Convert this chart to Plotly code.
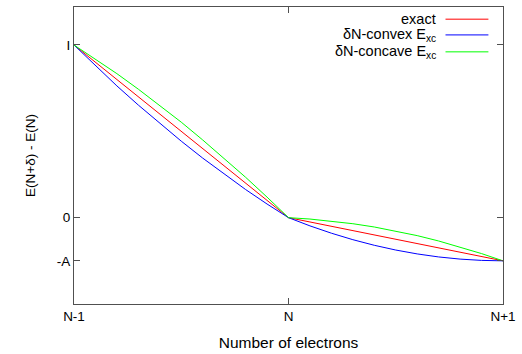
import plotly.graph_objects as go

# Number of electrons, measured relative to N
n_rel = [-1.0, -0.9, -0.8, -0.7, -0.6, -0.5, -0.4, -0.3, -0.2, -0.1, 0.0,
         0.1, 0.2, 0.3, 0.4, 0.5, 0.6, 0.7, 0.8, 0.9, 1.0]

# E(N+delta) - E(N) in units of the ionisation energy I (A = electron affinity)
e_exact = [1.0, 0.9, 0.8, 0.7, 0.6, 0.5, 0.4, 0.3, 0.2, 0.1, 0.0,
           -0.025, -0.05, -0.075, -0.1, -0.125, -0.15, -0.175, -0.2, -0.225, -0.25]
e_convex = [1.0, 0.879, 0.763, 0.652, 0.545, 0.443, 0.345, 0.252, 0.163, 0.079, 0.0,
            -0.0475, -0.09, -0.1275, -0.16, -0.1875, -0.21, -0.2275, -0.24, -0.2475, -0.25]
e_concave = [1.0, 0.919, 0.834, 0.744, 0.650, 0.553, 0.450, 0.344, 0.234, 0.119, 0.0,
             -0.008, -0.020, -0.035, -0.054, -0.078, -0.104, -0.135, -0.170, -0.208, -0.25]

x_tick_vals = [-1, 0, 1]
x_tick_text = ["N-1", "N", "N+1"]
y_tick_vals = [-0.25, 0, 1]
y_tick_text = ["-A", "0", "I"]

series_names = ["exact", "δN-convex E<sub>xc</sub>", "δN-concave E<sub>xc</sub>"]
series_values = [e_exact, e_convex, e_concave]
series_colors = ["#ff0000", "#0000ff", "#00ff00"]

FONT = "Liberation Sans, Arial, sans-serif"
AXIS_COLOR = "#505050"

fig = go.Figure()
for name, vals, col in zip(series_names, series_values, series_colors):
    fig.add_trace(go.Scatter(x=n_rel, y=vals, mode="lines", name=name,
                             line=dict(color=col, width=1), showlegend=False))

# gnuplot-style key: right-aligned labels with the line sample to their right
key_rows = [0.959, 0.906, 0.849]
for name, col, yy in zip(series_names, series_colors, key_rows):
    fig.add_annotation(x=0.848, y=yy, xref="paper", yref="paper", text=name,
                       showarrow=False, xanchor="right", yanchor="middle",
                       font=dict(size=14.5, color="#000000", family=FONT))
    fig.add_shape(type="line", xref="paper", yref="paper",
                  x0=0.866, x1=0.966, y0=yy, y1=yy,
                  line=dict(color=col, width=1))

axis_common = dict(showgrid=False, zeroline=False, showline=True, linecolor=AXIS_COLOR,
                   linewidth=1, mirror="ticks", ticks="inside", ticklen=6,
                   tickcolor=AXIS_COLOR, tickwidth=1,
                   tickfont=dict(size=13.5, color="#000000", family=FONT))

fig.update_xaxes(range=[-1, 1], tickvals=x_tick_vals, ticktext=x_tick_text,
                 title=dict(text="Number of electrons", standoff=13,
                            font=dict(size=15.5, color="#000000", family=FONT)),
                 **axis_common)
fig.update_yaxes(range=[-0.5, 1.22], tickvals=y_tick_vals, ticktext=y_tick_text,
                 title=dict(text="E(N+δ) - E(N)", standoff=18,
                            font=dict(size=13.5, color="#000000", family=FONT)),
                 **axis_common)

fig.update_layout(width=522, height=354, margin=dict(l=74, r=14, t=6, b=49),
                  paper_bgcolor="white", plot_bgcolor="white",
                  font=dict(family=FONT, color="#000000"))

fig.write_html("out.html")
